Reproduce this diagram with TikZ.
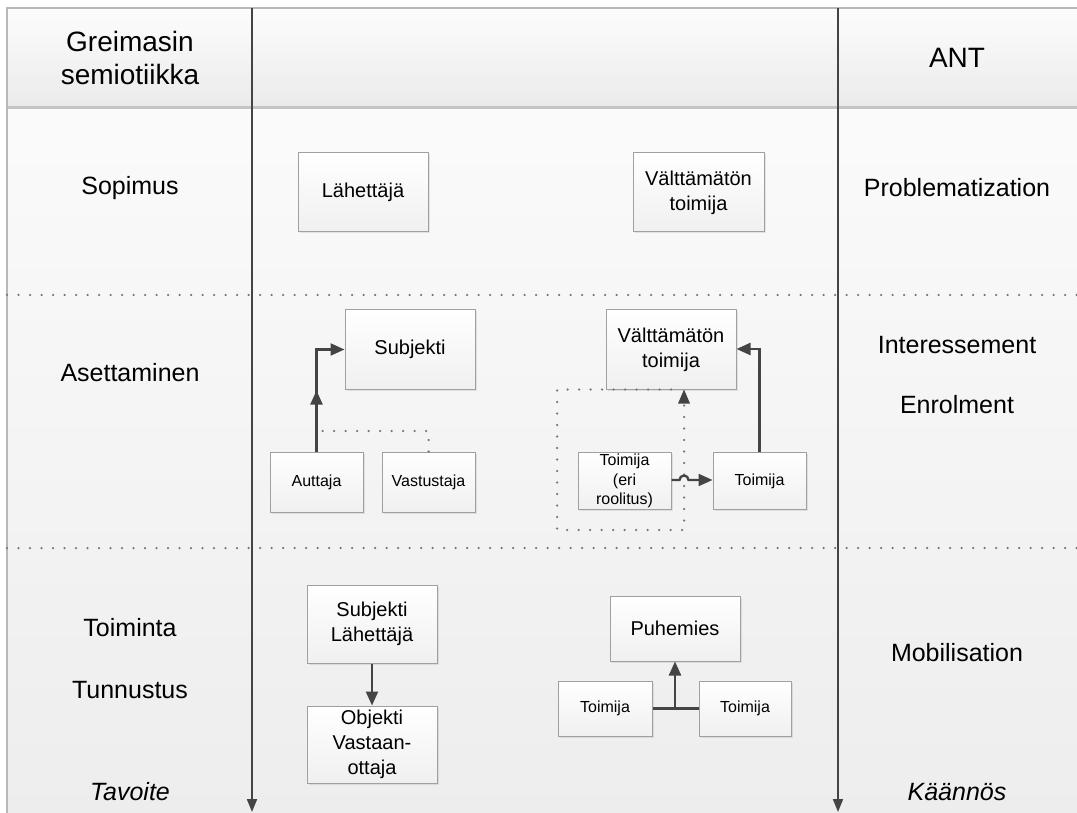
\documentclass[tikz,border=0pt]{standalone}
\usepackage{fontspec}
\setmainfont{Liberation Sans}
\usetikzlibrary{arrows.meta,shadows,decorations.markings}
\definecolor{lanegray}{HTML}{444444}
\definecolor{boxborder}{HTML}{A0A0A0}
\definecolor{dotgray}{HTML}{767676}
\definecolor{headline}{HTML}{C4C4C4}
\definecolor{frameline}{HTML}{B8B8B8}
\tikzset{
  box/.style={draw=boxborder, line width=1pt, top color=white, bottom color=black!6,
    drop shadow={opacity=0.18, shadow xshift=1.5pt, shadow yshift=-1.5pt},
    inner sep=0pt, align=center, font=\fontsize{20}{25}\selectfont},
  smallbox/.style={box, font=\fontsize{16}{19.5}\selectfont},
  tip/.style={-{Triangle[length=14pt,width=12pt]}},
  conn/.style={draw=lanegray, line width=2.3pt, tip},
  dotline/.style={draw=dotgray, line width=2.5pt, line cap=round, dash pattern=on 0pt off 11.5pt},
  lane/.style={draw=lanegray, line width=2pt, -{Triangle[length=13pt,width=10pt]}},
  headtext/.style={align=center, font=\fontsize{28}{33}\selectfont},
  rowtext/.style={font=\fontsize{25}{29}\selectfont},
  rowital/.style={font=\fontsize{25}{29}\selectfont\itshape},
}
\begin{document}
\begin{tikzpicture}[x=1pt,y=-1pt]
  \useasboundingbox (0,0) rectangle (1077,813);
  % page background and lanes
  \shade[top color=black!1, bottom color=black!7] (7,8) rectangle (1077,813);
  \shade[top color=black!1, bottom color=black!8] (7,8) rectangle (1077,108);
  \draw[headline, line width=3pt] (7,108) -- (1077,108);
  \draw[frameline, line width=1.2pt] (1077,8) -- (7,8) -- (7,813);
  % phase separators
  \draw[dotline] (7,295) -- (1077,295);
  \draw[dotline] (7,548) -- (1077,548);
  % lane dividers
  \coordinate (l1t) at (252,8);
  \coordinate (l1b) at (252,812);
  \coordinate (l2t) at (838,8);
  \coordinate (l2b) at (838,812);
  \draw[lane] (l1t) -- (l1b);
  \draw[lane] (l2t) -- (l2b);

  % column headings and phase names
  \node[headtext] (hgreimas) at (130,58) {Greimasin\\semiotiikka};
  \node[headtext] (hant) at (957,58) {ANT};
  \node[rowtext] (sopimus) at (130,188) {Sopimus};
  \node[rowtext] (asett) at (130,373) {Asettaminen};
  \node[rowtext] (toiminta) at (130,628) {Toiminta};
  \node[rowtext] (tunnustus) at (130,690) {Tunnustus};
  \node[rowital] (tavoite) at (130,792) {Tavoite};
  \node[rowtext] (problem) at (957,188) {Problematization};
  \node[rowtext] (interess) at (957,345) {Interessement};
  \node[rowtext] (enrol) at (957,405) {Enrolment};
  \node[rowtext] (mobil) at (957,653) {Mobilisation};
  \node[rowital] (kaannos) at (957,792) {Käännös};

  % Sopimus row
  \node[box, minimum width=130pt, minimum height=79pt] (lah) at (363,192.5) {Lähettäjä};
  \node[box, minimum width=131pt, minimum height=79pt] (vt1) at (698.5,192.5) {Välttämätön\\toimija};

  % Asettaminen row
  \node[box, minimum width=130pt, minimum height=79pt] (subj) at (410,349.5) {Subjekti};
  \node[smallbox, minimum width=93pt, minimum height=60pt] (aut) at (316.5,482) {Auttaja};
  \node[smallbox, minimum width=93pt, minimum height=60pt] (vast) at (428.5,482) {Vastustaja};
  \node[box, minimum width=130pt, minimum height=79pt] (vt2) at (671,349.5) {Välttämätön\\toimija};
  \node[smallbox, minimum width=93pt, minimum height=57pt] (eri) at (624.5,481) {Toimija\\(eri\\roolitus)};
  \node[smallbox, minimum width=93pt, minimum height=57pt] (toim) at (759.5,481) {Toimija};

  \draw[conn, postaction={decorate},
    decoration={markings, mark=at position 61pt with {\arrow{Triangle[length=14pt,width=12pt]}}}]
    (aut.north) |- (subj.west);
  \draw[dotline] (vast.north) |- (aut.north |- 0,431);
  \draw[conn] (toim.north) |- (vt2.east |- 0,349);
  \draw[dotline] (vt2.south) -| (557,530) -| ([xshift=13pt]vt2.south);
  \fill[lanegray] ([xshift=13pt]vt2.south) -- ++(-6pt,-14pt) -- ++(12pt,0) -- cycle;
  \draw[conn] (eri.east |- 0,480) -- (679.5,480)
    arc[start angle=180, end angle=0, radius=4.5pt] -- (toim.west |- 0,480);

  % Toiminta row
  \node[box, minimum width=130pt, minimum height=78pt] (subl) at (372,624) {Subjekti\\Lähettäjä};
  \node[box, minimum width=130pt, minimum height=77pt] (obj) at (372,744.5) {Objekti\\Vastaan-\\ottaja};
  \node[box, minimum width=130pt, minimum height=65pt] (puh) at (675,628.5) {Puhemies};
  \node[smallbox, minimum width=94pt, minimum height=55pt] (t1) at (605,708.5) {Toimija};
  \node[smallbox, minimum width=92pt, minimum height=55pt] (t2) at (745,708.5) {Toimija};

  \draw[conn] (subl.south) -- (obj.north);
  \draw[draw=lanegray, line width=2.3pt] (t1.east) -- (t2.west);
  \draw[conn] (puh.south |- t1.east) -- (puh.south);
\end{tikzpicture}
\end{document}
